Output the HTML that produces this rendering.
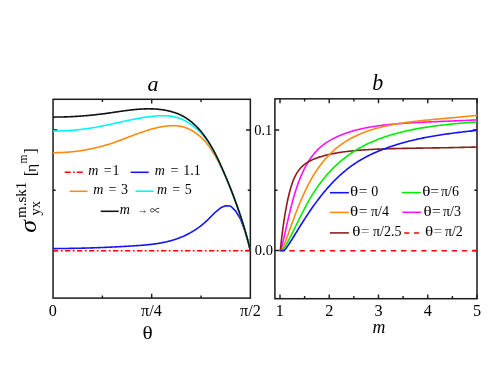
<!DOCTYPE html>
<html><head><meta charset="utf-8"><title>chart</title>
<style>html,body{margin:0;padding:0;background:#fff;}svg{display:block;will-change:transform;}</style>
</head><body>
<svg width="491" height="369" viewBox="0 0 491 369">
<rect width="491" height="369" fill="#fff"/>
<g font-family="'Liberation Serif', serif" fill="#000">
<rect x="53.05" y="99.30" width="197.30" height="198.80" fill="none" stroke="#1a1a1a" stroke-width="1.5"/>
<rect x="274.90" y="98.85" width="202.10" height="199.85" fill="none" stroke="#1a1a1a" stroke-width="1.5"/>
<path d="M151.70 99.30v4.3M151.70 298.10v-4.3M102.38 99.30v2.6M102.38 298.10v-2.6M201.03 99.30v2.6M201.03 298.10v-2.6M53.05 250.50h4.3M250.35 250.50h-4.3M53.05 130.00h4.3M250.35 130.00h-4.3M53.05 190.25h2.6M250.35 190.25h-2.6" fill="none" stroke="#1a1a1a" stroke-width="1.4"/>
<path d="M280.00 98.85v4.3M280.00 298.70v-4.3M329.25 98.85v4.3M329.25 298.70v-4.3M378.50 98.85v4.3M378.50 298.70v-4.3M427.75 98.85v4.3M427.75 298.70v-4.3M477.00 98.85v4.3M477.00 298.70v-4.3M304.62 98.85v2.6M304.62 298.70v-2.6M353.88 98.85v2.6M353.88 298.70v-2.6M403.12 98.85v2.6M403.12 298.70v-2.6M452.38 98.85v2.6M452.38 298.70v-2.6M274.90 250.50h4.3M477.00 250.50h-4.3M274.90 130.00h4.3M477.00 130.00h-4.3M274.90 190.25h2.6M477.00 190.25h-2.6" fill="none" stroke="#1a1a1a" stroke-width="1.4"/>
<g fill="none" stroke-width="1.6" stroke-linejoin="round">
<path d="M53 250.7H250.4" stroke="#ff0000" stroke-width="1.5" stroke-dasharray="5.3 2.5 1.7 2.5"/>
<path d="M53.00 248.55L53.33 248.55L53.90 248.55L54.46 248.55L55.03 248.54L55.60 248.54L56.17 248.54L56.74 248.54L57.31 248.54L57.88 248.53L58.45 248.53L59.01 248.53L59.58 248.52L60.15 248.52L60.72 248.52L61.29 248.51L61.86 248.51L62.43 248.50L63.00 248.50L63.57 248.49L64.13 248.48L64.70 248.48L65.27 248.47L65.84 248.47L66.41 248.46L66.98 248.45L67.55 248.44L68.12 248.44L68.69 248.43L69.26 248.42L69.83 248.41L70.39 248.40L70.96 248.39L71.53 248.38L72.10 248.37L72.67 248.36L73.24 248.35L73.81 248.34L74.38 248.33L74.95 248.32L75.52 248.31L76.09 248.30L76.66 248.29L77.23 248.28L77.80 248.26L78.36 248.25L78.93 248.24L79.50 248.23L80.07 248.21L80.64 248.20L81.21 248.19L81.78 248.17L82.35 248.16L82.92 248.14L83.49 248.13L84.06 248.11L84.63 248.10L85.20 248.08L85.77 248.07L86.34 248.05L86.91 248.03L87.48 248.02L88.05 248.00L88.62 247.98L89.19 247.97L89.76 247.95L90.33 247.93L90.90 247.91L91.47 247.90L92.04 247.88L92.61 247.86L93.18 247.84L93.75 247.82L94.32 247.80L94.89 247.78L95.46 247.76L96.03 247.74L96.60 247.72L97.17 247.70L97.74 247.68L98.31 247.66L98.88 247.63L99.45 247.61L100.02 247.59L100.59 247.57L101.16 247.54L101.73 247.52L102.30 247.50L102.87 247.48L103.44 247.45L104.01 247.43L104.58 247.40L105.15 247.38L105.72 247.36L106.29 247.33L106.87 247.31L107.44 247.28L108.01 247.25L108.58 247.23L109.15 247.20L109.72 247.18L110.29 247.15L110.86 247.12L111.43 247.10L112.00 247.07L112.57 247.04L113.14 247.01L113.71 246.99L114.29 246.96L114.86 246.93L115.43 246.90L116.00 246.87L116.57 246.84L117.14 246.81L117.71 246.78L118.28 246.75L118.85 246.72L119.43 246.69L120.00 246.66L120.57 246.63L121.14 246.60L121.71 246.57L122.28 246.54L122.85 246.51L123.43 246.48L124.00 246.44L124.57 246.41L125.14 246.38L125.71 246.35L126.28 246.31L126.85 246.28L127.43 246.25L128.00 246.21L128.57 246.18L129.14 246.14L129.71 246.11L130.28 246.07L130.86 246.04L131.43 246.00L132.00 245.97L132.57 245.93L133.14 245.90L133.72 245.86L134.29 245.82L134.86 245.79L135.43 245.75L136.00 245.71L136.58 245.67L137.15 245.63L137.72 245.59L138.29 245.55L138.86 245.51L139.43 245.47L140.00 245.43L140.57 245.38L141.15 245.34L141.72 245.29L142.29 245.25L142.86 245.20L143.43 245.15L144.00 245.10L144.57 245.05L145.13 245.00L145.70 244.95L146.27 244.90L146.84 244.84L147.41 244.78L147.98 244.73L148.54 244.67L149.11 244.61L149.68 244.54L150.24 244.48L150.81 244.42L151.37 244.35L151.94 244.28L152.50 244.21L153.07 244.14L153.63 244.07L154.19 243.99L154.76 243.91L155.32 243.84L155.88 243.76L156.44 243.67L157.00 243.59L157.56 243.50L158.12 243.41L158.68 243.32L159.24 243.23L159.79 243.13L160.35 243.04L160.91 242.94L161.46 242.83L162.02 242.73L162.57 242.62L163.13 242.52L163.68 242.40L164.23 242.29L164.78 242.17L165.33 242.05L165.88 241.93L166.43 241.81L166.98 241.68L167.53 241.55L168.07 241.42L168.62 241.28L169.17 241.14L169.71 241.00L170.25 240.86L170.80 240.71L171.34 240.56L171.88 240.41L172.42 240.25L172.96 240.09L173.50 239.93L174.03 239.77L174.57 239.60L175.10 239.42L175.64 239.25L176.17 239.07L176.70 238.89L177.23 238.70L177.76 238.51L178.29 238.32L178.82 238.12L179.35 237.92L179.87 237.72L180.40 237.51L180.92 237.30L181.44 237.08L181.96 236.87L182.48 236.65L183.00 236.42L183.52 236.19L184.04 235.96L184.55 235.72L185.06 235.48L185.57 235.24L186.08 234.99L186.59 234.74L187.10 234.49L187.61 234.23L188.11 233.97L188.61 233.71L189.12 233.44L189.61 233.17L190.11 232.90L190.61 232.62L191.10 232.34L191.60 232.05L192.09 231.77L192.58 231.47L193.06 231.18L193.55 230.88L194.03 230.58L194.52 230.27L195.00 229.97L195.47 229.65L195.95 229.34L196.43 229.02L196.90 228.70L197.37 228.37L197.84 228.05L198.30 227.71L198.77 227.38L199.23 227.04L199.69 226.70L200.15 226.36L200.60 226.01L201.05 225.66L201.51 225.30L201.95 224.94L202.40 224.58L202.84 224.22L203.29 223.85L203.73 223.48L204.16 223.11L204.60 222.73L205.03 222.35L205.46 221.97L205.88 221.58L206.31 221.19L206.73 220.80L207.15 220.40L207.57 220.00L207.98 219.60L208.39 219.20L208.80 218.79L209.21 218.38L209.61 217.96L210.01 217.54L210.41 217.12L210.80 216.70L215.80 211.80L220.70 207.80L225.60 205.70L230.50 206.00L235.50 210.80L240.40 218.80L245.30 232.00L250.40 250.50" stroke="#1414f5"/>
<path d="M53.00 152.69L53.41 152.69L54.21 152.69L55.00 152.68L55.79 152.68L56.58 152.67L57.38 152.65L58.17 152.63L58.96 152.61L59.75 152.59L60.54 152.56L61.34 152.53L62.13 152.49L62.92 152.46L63.71 152.41L64.50 152.37L65.30 152.32L66.09 152.27L66.88 152.21L67.67 152.15L68.46 152.09L69.25 152.02L70.04 151.95L70.83 151.88L71.62 151.80L72.41 151.72L73.20 151.64L73.99 151.55L74.78 151.46L75.57 151.37L76.36 151.27L77.15 151.17L77.93 151.07L78.72 150.96L79.51 150.85L80.30 150.74L81.08 150.62L81.87 150.50L82.65 150.38L83.44 150.25L84.22 150.12L85.01 149.98L85.79 149.85L86.57 149.70L87.35 149.56L88.13 149.41L88.92 149.26L89.70 149.11L90.48 148.95L91.26 148.79L92.03 148.62L92.81 148.45L93.59 148.28L94.37 148.11L95.14 147.93L95.92 147.75L96.69 147.56L97.46 147.38L98.24 147.18L99.01 146.99L99.78 146.79L100.55 146.59L101.32 146.39L102.09 146.18L102.86 145.97L103.62 145.75L104.39 145.53L105.16 145.31L105.92 145.09L106.68 144.86L107.45 144.63L108.21 144.39L108.97 144.16L109.73 143.91L110.49 143.67L111.24 143.42L112.00 143.17L112.75 142.92L113.51 142.66L114.26 142.40L115.02 142.14L115.77 141.87L116.52 141.61L117.27 141.34L118.02 141.06L118.77 140.79L119.52 140.52L120.26 140.24L121.01 139.96L121.76 139.68L122.50 139.40L123.25 139.12L123.99 138.83L124.74 138.55L125.48 138.26L126.23 137.98L126.97 137.69L127.71 137.41L128.46 137.12L129.20 136.84L129.94 136.55L130.69 136.27L131.43 135.99L132.17 135.70L132.92 135.42L133.66 135.14L134.40 134.86L135.15 134.58L135.89 134.30L136.63 134.03L137.38 133.75L138.12 133.48L138.87 133.21L139.61 132.94L140.36 132.68L141.10 132.41L141.85 132.15L142.60 131.90L143.34 131.64L144.09 131.39L144.84 131.14L145.59 130.90L146.34 130.66L147.09 130.42L147.85 130.19L148.60 129.96L149.35 129.73L150.11 129.51L150.86 129.29L151.62 129.08L152.38 128.87L153.14 128.67L153.89 128.48L154.66 128.28L155.42 128.10L156.18 127.91L156.95 127.74L157.71 127.57L158.48 127.40L159.25 127.25L160.02 127.09L160.79 126.95L161.56 126.81L162.34 126.68L163.11 126.55L163.89 126.43L164.67 126.32L165.45 126.22L166.24 126.12L167.02 126.03L167.81 125.95L168.59 125.88L169.38 125.82L170.17 125.76L170.96 125.72L171.75 125.69L172.54 125.67L173.33 125.67L174.12 125.68L174.91 125.70L175.69 125.73L176.48 125.78L177.26 125.85L178.04 125.94L178.82 126.04L179.59 126.15L180.37 126.29L181.14 126.45L181.90 126.62L182.67 126.81L183.42 127.02L184.18 127.25L184.93 127.49L185.68 127.75L186.42 128.03L187.16 128.32L187.89 128.63L188.62 128.95L189.34 129.29L190.05 129.64L190.76 130.01L191.47 130.39L192.17 130.78L192.86 131.19L193.55 131.61L194.23 132.04L194.90 132.48L195.57 132.94L196.23 133.40L196.88 133.88L197.52 134.37L198.16 134.87L198.79 135.37L199.41 135.89L200.02 136.42L200.63 136.95L201.23 137.50L201.81 138.05L202.39 138.61L202.96 139.17L203.52 139.75L204.07 140.33L204.61 140.91L205.15 141.50L205.67 142.10L206.18 142.71L206.68 143.31L207.18 143.93L207.67 144.55L208.15 145.17L208.62 145.80L209.09 146.44L209.54 147.07L210.00 147.72L210.44 148.36L210.88 149.01L211.31 149.67L211.74 150.33L212.16 150.99L212.58 151.65L213.00 152.32L213.40 152.99L213.81 153.66L214.21 154.34L214.61 155.02L215.01 155.70L215.40 156.38L215.79 157.07L216.18 157.75L216.56 158.44L216.94 159.14L217.32 159.83L217.70 160.52L218.07 161.22L218.44 161.92L218.81 162.62L219.17 163.33L219.53 164.03L219.89 164.74L220.25 165.44L220.61 166.15L220.96 166.86L221.31 167.58L221.66 168.29L222.00 169.01L222.35 169.72L222.69 170.44L223.03 171.16L223.37 171.88L223.70 172.60L224.03 173.32L224.36 174.05L224.69 174.77L225.02 175.49L225.34 176.22L225.67 176.95L225.99 177.68L226.31 178.40L226.63 179.13L226.94 179.86L227.26 180.59L227.57 181.32L227.88 182.05L228.19 182.78L228.50 183.52L228.80 184.25L229.11 184.98L229.41 185.72L229.71 186.45L230.01 187.19L230.31 187.92L230.61 188.66L230.90 189.39L231.20 190.13L231.49 190.87L231.78 191.60L232.07 192.34L232.36 193.08L232.64 193.82L232.93 194.56L233.21 195.30L233.49 196.04L233.77 196.78L234.05 197.53L234.33 198.27L234.60 199.01L234.88 199.75L235.15 200.50L235.42 201.24L235.69 201.99L235.96 202.73L236.23 203.48L236.49 204.22L236.76 204.97L237.02 205.72L237.28 206.46L237.54 207.21L237.80 207.96L238.06 208.71L238.31 209.46L238.57 210.21L238.82 210.96L239.08 211.71L239.33 212.46L239.58 213.21L239.82 213.96L240.07 214.71L240.32 215.47L240.56 216.22L240.81 216.97L241.05 217.73L241.29 218.48L241.53 219.24L241.77 219.99L242.00 220.75L242.24 221.50L242.47 222.26L242.71 223.02L242.94 223.77L243.17 224.53L243.40 225.29L243.63 226.05L243.86 226.81L244.09 227.56L244.31 228.32L244.54 229.08L244.76 229.84L244.98 230.60L245.20 231.37L245.42 232.13L245.64 232.89L245.86 233.65L246.08 234.41L246.29 235.18L246.51 235.94L246.72 236.70L246.93 237.47L247.14 238.23L247.36 238.99L247.57 239.76L247.77 240.52L247.98 241.29L248.19 242.06L248.39 242.82L248.60 243.59L248.80 244.35L249.01 245.12L249.21 245.89L249.41 246.66L249.61 247.42L249.81 248.19L250.01 248.96L250.20 249.73L250.40 250.50" stroke="#ff8a10"/>
<path d="M53.00 131.02L53.54 131.02L54.26 131.02L54.97 131.01L55.68 131.01L56.39 131.00L57.11 130.99L57.82 130.98L58.53 130.96L59.25 130.95L59.96 130.93L60.67 130.91L61.38 130.88L62.10 130.86L62.81 130.83L63.52 130.80L64.23 130.77L64.95 130.74L65.66 130.70L66.37 130.67L67.08 130.63L67.79 130.58L68.51 130.54L69.22 130.50L69.93 130.45L70.64 130.40L71.35 130.35L72.06 130.29L72.77 130.24L73.48 130.18L74.19 130.12L74.90 130.05L75.61 129.99L76.32 129.92L77.03 129.85L77.74 129.78L78.44 129.71L79.15 129.64L79.86 129.56L80.57 129.48L81.28 129.40L81.98 129.31L82.69 129.23L83.40 129.14L84.10 129.05L84.81 128.96L85.51 128.86L86.22 128.77L86.93 128.67L87.63 128.57L88.33 128.47L89.04 128.36L89.74 128.26L90.44 128.15L91.15 128.04L91.85 127.92L92.55 127.81L93.25 127.69L93.96 127.57L94.66 127.45L95.36 127.33L96.06 127.20L96.76 127.08L97.46 126.95L98.16 126.82L98.85 126.68L99.55 126.55L100.25 126.42L100.95 126.28L101.65 126.14L102.35 126.00L103.04 125.86L103.74 125.72L104.44 125.58L105.13 125.43L105.83 125.29L106.53 125.14L107.22 124.99L107.92 124.84L108.62 124.69L109.31 124.55L110.01 124.39L110.70 124.24L111.40 124.09L112.09 123.94L112.79 123.79L113.49 123.63L114.18 123.48L114.88 123.33L115.57 123.17L116.27 123.02L116.96 122.86L117.66 122.71L118.36 122.56L119.05 122.40L119.75 122.25L120.44 122.09L121.14 121.94L121.84 121.79L122.53 121.64L123.23 121.48L123.93 121.33L124.62 121.18L125.32 121.03L126.02 120.88L126.72 120.73L127.41 120.58L128.11 120.43L128.81 120.29L129.51 120.14L130.21 120.00L130.91 119.85L131.61 119.71L132.31 119.57L133.01 119.43L133.71 119.29L134.41 119.15L135.11 119.02L135.81 118.88L136.51 118.75L137.21 118.62L137.92 118.49L138.62 118.36L139.32 118.24L140.03 118.11L140.73 117.99L141.44 117.87L142.14 117.75L142.85 117.64L143.56 117.53L144.26 117.41L144.97 117.31L145.68 117.20L146.39 117.09L147.10 116.99L147.81 116.89L148.52 116.80L149.23 116.70L149.94 116.61L150.65 116.52L151.37 116.44L152.08 116.36L152.79 116.28L153.51 116.20L154.22 116.13L154.94 116.06L155.65 116.00L156.37 115.94L157.08 115.89L157.80 115.84L158.51 115.80L159.22 115.76L159.94 115.73L160.65 115.71L161.36 115.69L162.07 115.68L162.78 115.67L163.49 115.68L164.20 115.68L164.91 115.70L165.62 115.73L166.32 115.76L167.03 115.80L167.73 115.85L168.43 115.91L169.13 115.98L169.83 116.05L170.52 116.14L171.22 116.23L171.91 116.34L172.60 116.46L173.29 116.58L173.97 116.72L174.66 116.87L175.34 117.03L176.01 117.20L176.69 117.38L177.36 117.57L178.03 117.78L178.70 118.00L179.37 118.23L180.03 118.47L180.69 118.73L181.34 119.00L182.00 119.28L182.64 119.57L183.29 119.88L183.93 120.19L184.57 120.52L185.20 120.85L185.83 121.20L186.46 121.56L187.08 121.92L187.70 122.30L188.32 122.68L188.93 123.07L189.53 123.47L190.13 123.87L190.73 124.28L191.32 124.70L191.91 125.13L192.49 125.56L193.06 126.00L193.64 126.44L194.20 126.89L194.76 127.34L195.32 127.80L195.87 128.27L196.42 128.74L196.96 129.21L197.49 129.69L198.02 130.18L198.55 130.67L199.06 131.17L199.58 131.67L200.08 132.18L200.58 132.69L201.08 133.21L201.56 133.73L202.05 134.25L202.52 134.78L202.99 135.32L203.46 135.86L203.91 136.40L204.37 136.95L204.81 137.50L205.25 138.06L205.68 138.62L206.10 139.18L206.52 139.75L206.94 140.32L207.35 140.89L207.75 141.47L208.15 142.05L208.54 142.64L208.93 143.23L209.31 143.82L209.69 144.41L210.07 145.01L210.44 145.61L210.80 146.22L211.17 146.82L211.53 147.43L211.88 148.04L212.24 148.66L212.59 149.27L212.93 149.89L213.28 150.51L213.62 151.13L213.95 151.76L214.29 152.39L214.62 153.02L214.95 153.65L215.27 154.28L215.60 154.91L215.92 155.55L216.24 156.19L216.55 156.82L216.87 157.46L217.18 158.11L217.49 158.75L217.80 159.39L218.11 160.04L218.41 160.68L218.72 161.33L219.02 161.98L219.32 162.62L219.62 163.27L219.92 163.92L220.22 164.57L220.52 165.22L220.81 165.87L221.11 166.52L221.40 167.17L221.70 167.82L221.99 168.47L222.28 169.13L222.57 169.78L222.86 170.43L223.15 171.08L223.44 171.74L223.73 172.39L224.01 173.04L224.30 173.70L224.58 174.35L224.87 175.01L225.15 175.66L225.43 176.32L225.71 176.97L226.00 177.63L226.27 178.28L226.55 178.94L226.83 179.60L227.11 180.25L227.38 180.91L227.66 181.57L227.93 182.23L228.20 182.89L228.48 183.54L228.75 184.20L229.02 184.86L229.29 185.52L229.56 186.18L229.82 186.84L230.09 187.50L230.35 188.17L230.62 188.83L230.88 189.49L231.14 190.15L231.41 190.81L231.67 191.48L231.93 192.14L232.19 192.80L232.44 193.47L232.70 194.13L232.96 194.79L233.21 195.46L233.46 196.12L233.72 196.79L233.97 197.46L234.22 198.12L234.47 198.79L234.72 199.46L234.97 200.12L235.21 200.79L235.46 201.46L235.70 202.13L235.95 202.79L236.19 203.46L236.43 204.13L236.67 204.80L236.91 205.47L237.15 206.14L237.39 206.81L237.63 207.48L237.86 208.16L238.10 208.83L238.33 209.50L238.57 210.17L238.80 210.85L239.03 211.52L239.26 212.19L239.49 212.87L239.71 213.54L239.94 214.21L240.17 214.89L240.39 215.56L240.61 216.24L240.84 216.92L241.06 217.59L241.28 218.27L241.50 218.95L241.72 219.62L241.93 220.30L242.15 220.98L242.36 221.66L242.58 222.34L242.79 223.02L243.00 223.70L243.21 224.38L243.42 225.06L243.63 225.74L243.84 226.42L244.05 227.10L244.25 227.78L244.46 228.47L244.66 229.15L244.86 229.83L245.06 230.51L245.26 231.20L245.46 231.88L245.66 232.57L245.85 233.25L246.05 233.94L246.24 234.62L246.44 235.31L246.63 236.00L246.82 236.68L247.01 237.37L247.20 238.06L247.39 238.75L247.57 239.43L247.76 240.12L247.94 240.81L248.12 241.50L248.31 242.19L248.49 242.88L248.67 243.57L248.85 244.26L249.02 244.95L249.20 245.65L249.37 246.34L249.55 247.03L249.72 247.72L249.89 248.42L250.06 249.11L250.23 249.81L250.40 250.50" stroke="#00f6fa"/>
<path d="M53.00 117.08L53.44 117.08L54.16 117.08L54.87 117.07L55.59 117.07L56.30 117.06L57.01 117.06L57.73 117.05L58.44 117.04L59.16 117.03L59.87 117.02L60.59 117.00L61.30 116.99L62.01 116.97L62.73 116.96L63.44 116.94L64.16 116.92L64.87 116.90L65.58 116.87L66.30 116.85L67.01 116.83L67.73 116.80L68.44 116.77L69.16 116.74L69.87 116.71L70.58 116.68L71.30 116.65L72.01 116.61L72.73 116.58L73.44 116.54L74.15 116.50L74.87 116.46L75.58 116.42L76.30 116.38L77.01 116.33L77.73 116.29L78.44 116.24L79.15 116.19L79.87 116.14L80.58 116.09L81.30 116.04L82.01 115.99L82.73 115.93L83.44 115.88L84.16 115.82L84.87 115.76L85.58 115.70L86.30 115.64L87.01 115.58L87.73 115.51L88.44 115.45L89.16 115.38L89.87 115.31L90.59 115.24L91.30 115.17L92.01 115.10L92.73 115.03L93.44 114.96L94.16 114.88L94.87 114.80L95.59 114.72L96.30 114.64L97.02 114.56L97.73 114.48L98.45 114.40L99.16 114.31L99.88 114.23L100.59 114.14L101.31 114.05L102.02 113.96L102.74 113.87L103.45 113.78L104.17 113.68L104.88 113.59L105.60 113.49L106.31 113.39L107.03 113.29L107.74 113.19L108.46 113.09L109.17 112.99L109.89 112.89L110.60 112.78L111.32 112.68L112.03 112.57L112.75 112.47L113.46 112.36L114.18 112.26L114.89 112.15L115.61 112.05L116.32 111.94L117.04 111.84L117.75 111.73L118.47 111.63L119.18 111.52L119.90 111.42L120.61 111.32L121.33 111.22L122.04 111.11L122.76 111.01L123.47 110.92L124.19 110.82L124.90 110.72L125.62 110.62L126.33 110.53L127.05 110.44L127.76 110.35L128.48 110.26L129.19 110.17L129.91 110.08L130.62 110.00L131.34 109.92L132.05 109.84L132.77 109.76L133.48 109.69L134.20 109.61L134.91 109.54L135.63 109.48L136.34 109.41L137.05 109.35L137.77 109.29L138.48 109.23L139.20 109.18L139.91 109.13L140.63 109.09L141.34 109.04L142.06 109.00L142.77 108.97L143.48 108.94L144.20 108.91L144.91 108.88L145.63 108.86L146.34 108.85L147.05 108.83L147.77 108.82L148.48 108.82L149.19 108.82L149.91 108.83L150.62 108.84L151.34 108.85L152.05 108.87L152.76 108.89L153.48 108.92L154.19 108.96L154.90 109.00L155.61 109.04L156.33 109.09L157.04 109.15L157.75 109.21L158.47 109.27L159.18 109.35L159.89 109.42L160.60 109.51L161.31 109.60L162.02 109.69L162.73 109.80L163.44 109.91L164.15 110.02L164.86 110.14L165.56 110.27L166.27 110.41L166.97 110.55L167.67 110.70L168.37 110.85L169.06 111.01L169.76 111.18L170.45 111.36L171.14 111.54L171.83 111.73L172.51 111.93L173.19 112.14L173.87 112.35L174.55 112.58L175.22 112.81L175.89 113.04L176.55 113.29L177.22 113.54L177.87 113.80L178.53 114.08L179.18 114.35L179.82 114.64L180.47 114.94L181.10 115.24L181.74 115.55L182.36 115.88L182.99 116.21L183.61 116.55L184.22 116.90L184.83 117.25L185.43 117.62L186.03 118.00L186.62 118.38L187.21 118.77L187.80 119.17L188.37 119.58L188.95 119.99L189.52 120.41L190.08 120.85L190.64 121.28L191.20 121.73L191.75 122.18L192.29 122.64L192.83 123.10L193.37 123.57L193.90 124.05L194.43 124.54L194.95 125.03L195.47 125.52L195.98 126.03L196.49 126.53L196.99 127.05L197.49 127.57L197.99 128.09L198.48 128.62L198.96 129.15L199.45 129.69L199.92 130.24L200.40 130.79L200.86 131.34L201.33 131.89L201.79 132.46L202.24 133.02L202.69 133.59L203.14 134.16L203.58 134.74L204.02 135.32L204.45 135.90L204.88 136.49L205.30 137.07L205.72 137.67L206.14 138.26L206.55 138.86L206.96 139.45L207.36 140.05L207.76 140.66L208.15 141.26L208.55 141.87L208.93 142.48L209.32 143.09L209.69 143.70L210.07 144.32L210.44 144.93L210.81 145.55L211.18 146.17L211.54 146.79L211.89 147.41L212.25 148.04L212.60 148.66L212.95 149.29L213.29 149.92L213.64 150.55L213.97 151.18L214.31 151.81L214.64 152.45L214.98 153.08L215.30 153.72L215.63 154.36L215.95 155.00L216.27 155.64L216.59 156.28L216.91 156.92L217.22 157.57L217.53 158.21L217.84 158.86L218.15 159.50L218.45 160.15L218.76 160.80L219.06 161.45L219.36 162.10L219.66 162.75L219.95 163.40L220.25 164.05L220.54 164.71L220.84 165.36L221.13 166.01L221.42 166.67L221.71 167.32L222.00 167.98L222.28 168.64L222.57 169.29L222.85 169.95L223.14 170.61L223.42 171.26L223.71 171.92L223.99 172.58L224.27 173.24L224.55 173.89L224.83 174.55L225.11 175.21L225.39 175.87L225.67 176.53L225.94 177.19L226.22 177.85L226.49 178.51L226.77 179.17L227.04 179.84L227.32 180.50L227.59 181.16L227.86 181.82L228.13 182.48L228.40 183.15L228.67 183.81L228.94 184.48L229.20 185.14L229.47 185.80L229.74 186.47L230.00 187.13L230.26 187.80L230.53 188.46L230.79 189.13L231.05 189.80L231.31 190.46L231.57 191.13L231.83 191.80L232.09 192.47L232.34 193.13L232.60 193.80L232.85 194.47L233.11 195.14L233.36 195.81L233.62 196.48L233.87 197.15L234.12 197.82L234.37 198.49L234.62 199.16L234.86 199.83L235.11 200.50L235.36 201.18L235.60 201.85L235.85 202.52L236.09 203.19L236.33 203.87L236.57 204.54L236.81 205.21L237.05 205.89L237.29 206.56L237.53 207.24L237.77 207.91L238.00 208.59L238.24 209.27L238.47 209.94L238.70 210.62L238.94 211.30L239.17 211.98L239.40 212.65L239.62 213.33L239.85 214.01L240.08 214.69L240.31 215.37L240.53 216.05L240.75 216.73L240.98 217.41L241.20 218.09L241.42 218.77L241.64 219.45L241.86 220.13L242.07 220.82L242.29 221.50L242.51 222.18L242.72 222.86L242.94 223.55L243.15 224.23L243.36 224.92L243.57 225.60L243.78 226.29L243.99 226.97L244.19 227.66L244.40 228.34L244.60 229.03L244.81 229.72L245.01 230.41L245.21 231.09L245.41 231.78L245.61 232.47L245.81 233.16L246.01 233.85L246.20 234.54L246.40 235.23L246.59 235.92L246.79 236.61L246.98 237.30L247.17 237.99L247.36 238.68L247.55 239.37L247.73 240.07L247.92 240.76L248.10 241.45L248.29 242.15L248.47 242.84L248.65 243.53L248.83 244.23L249.01 244.92L249.19 245.62L249.37 246.32L249.54 247.01L249.71 247.71L249.89 248.41L250.06 249.10L250.23 249.80L250.40 250.50" stroke="#111"/>
</g>
<g fill="none" stroke-width="1.6" stroke-linejoin="round">
<path d="M279.2 250.7H477" stroke="#ff0000" stroke-width="1.5" stroke-dasharray="5.3 4.85"/>
<path d="M280.30 250.50L280.41 250.46L280.53 250.34L280.65 250.16L280.79 249.91L280.93 249.60L281.07 249.22L281.23 248.78L281.39 248.27L281.56 247.71L281.74 247.09L281.92 246.41L282.11 245.68L282.31 244.89L282.51 244.06L282.72 243.17L282.94 242.24L283.17 241.25L283.40 240.23L283.65 239.16L283.89 238.05L284.15 236.90L284.41 235.71L284.68 234.49L284.96 233.23L285.24 231.93L285.54 230.61L285.83 229.25L286.14 227.87L286.45 226.46L286.77 225.02L287.10 223.56L287.44 222.08L287.78 220.58L288.13 219.06L288.48 217.52L288.85 215.97L289.22 214.41L289.60 212.83L289.98 211.25L290.38 209.66L290.78 208.06L291.18 206.46L291.60 204.85L292.02 203.25L292.45 201.65L292.88 200.05L293.33 198.46L293.78 196.88L294.24 195.31L294.70 193.74L295.17 192.19L295.65 190.66L296.14 189.14L296.63 187.64L297.13 186.16L297.64 184.71L298.16 183.27L298.68 181.86L299.21 180.47L299.75 179.11L300.29 177.76L300.84 176.44L301.40 175.14L301.97 173.86L302.54 172.61L303.12 171.37L303.71 170.16L304.30 168.97L304.91 167.80L305.52 166.66L306.13 165.53L306.76 164.43L307.39 163.35L308.02 162.29L308.67 161.25L309.32 160.23L309.98 159.23L310.65 158.26L311.32 157.30L312.01 156.37L312.69 155.46L313.39 154.57L314.09 153.70L314.80 152.85L315.52 152.03L316.25 151.22L316.98 150.44L317.72 149.68L318.46 148.94L319.22 148.22L319.98 147.52L320.75 146.84L321.52 146.19L322.31 145.56L323.10 144.94L323.89 144.34L324.70 143.77L325.51 143.20L326.33 142.66L327.15 142.12L327.99 141.60L328.83 141.09L329.67 140.59L330.53 140.10L331.39 139.62L332.26 139.15L333.14 138.69L334.02 138.23L334.91 137.79L335.81 137.35L336.72 136.93L337.63 136.51L338.55 136.10L339.47 135.69L340.41 135.30L341.35 134.91L342.30 134.54L343.26 134.17L344.22 133.80L345.19 133.45L346.17 133.10L347.15 132.76L348.14 132.43L349.14 132.11L350.15 131.79L351.16 131.48L352.18 131.18L353.21 130.88L354.25 130.59L355.29 130.31L356.34 130.03L357.40 129.76L358.46 129.50L359.53 129.24L360.61 128.99L361.70 128.75L362.79 128.51L363.89 128.28L365.00 128.05L366.11 127.83L367.23 127.61L368.36 127.40L369.50 127.20L370.64 127.00L371.80 126.81L372.95 126.62L374.12 126.43L375.29 126.25L376.47 126.08L377.66 125.91L378.85 125.75L380.05 125.59L381.26 125.43L382.48 125.28L383.70 125.13L384.93 124.99L386.17 124.85L387.41 124.71L388.67 124.58L389.93 124.45L391.19 124.33L392.47 124.21L393.75 124.09L395.03 123.98L396.33 123.87L397.63 123.76L398.94 123.66L400.26 123.55L401.58 123.46L402.91 123.36L404.25 123.27L405.60 123.18L406.95 123.09L408.31 123.00L409.68 122.92L411.05 122.83L412.44 122.75L413.83 122.68L415.22 122.60L416.63 122.53L418.04 122.45L419.45 122.38L420.88 122.31L422.31 122.24L423.75 122.17L425.20 122.11L426.65 122.04L428.11 121.98L429.58 121.91L431.06 121.85L432.54 121.79L434.03 121.73L435.53 121.67L437.04 121.60L438.55 121.54L440.07 121.48L441.59 121.42L443.13 121.36L444.67 121.30L446.22 121.24L447.77 121.18L449.33 121.11L450.90 121.05L452.48 120.99L454.06 120.92L455.65 120.86L457.25 120.79L458.86 120.72L460.47 120.65L462.09 120.58L463.72 120.51L465.35 120.44L467.00 120.36L468.65 120.29L470.30 120.21L471.97 120.13L473.64 120.05L475.31 119.96L477.00 119.88" stroke="#ff10ff"/>
<path d="M280.30 250.50L280.41 249.46L280.53 248.37L280.65 247.21L280.79 245.99L280.93 244.73L281.07 243.41L281.23 242.05L281.39 240.64L281.56 239.19L281.74 237.70L281.92 236.18L282.11 234.63L282.31 233.05L282.51 231.44L282.72 229.81L282.94 228.16L283.17 226.49L283.40 224.81L283.65 223.12L283.89 221.42L284.15 219.72L284.41 218.02L284.68 216.31L284.96 214.61L285.24 212.91L285.54 211.21L285.83 209.53L286.14 207.85L286.45 206.18L286.77 204.52L287.10 202.89L287.44 201.26L287.78 199.66L288.13 198.07L288.48 196.51L288.85 194.98L289.22 193.46L289.60 191.98L289.98 190.53L290.38 189.11L290.78 187.72L291.18 186.37L291.60 185.06L292.02 183.79L292.45 182.56L292.88 181.37L293.33 180.23L293.78 179.13L294.24 178.08L294.70 177.07L295.17 176.10L295.65 175.18L296.14 174.29L296.63 173.43L297.13 172.62L297.64 171.84L298.16 171.09L298.68 170.37L299.21 169.68L299.75 169.03L300.29 168.40L300.84 167.79L301.40 167.21L301.97 166.66L302.54 166.12L303.12 165.61L303.71 165.11L304.30 164.63L304.91 164.17L305.52 163.72L306.13 163.29L306.76 162.87L307.39 162.46L308.02 162.06L308.67 161.68L309.32 161.31L309.98 160.95L310.65 160.60L311.32 160.26L312.01 159.94L312.69 159.62L313.39 159.31L314.09 159.01L314.80 158.72L315.52 158.44L316.25 158.16L316.98 157.89L317.72 157.63L318.46 157.38L319.22 157.13L319.98 156.88L320.75 156.65L321.52 156.41L322.31 156.18L323.10 155.96L323.89 155.74L324.70 155.53L325.51 155.32L326.33 155.11L327.15 154.91L327.99 154.71L328.83 154.52L329.67 154.33L330.53 154.14L331.39 153.96L332.26 153.78L333.14 153.61L334.02 153.44L334.91 153.27L335.81 153.11L336.72 152.95L337.63 152.80L338.55 152.65L339.47 152.50L340.41 152.36L341.35 152.22L342.30 152.08L343.26 151.95L344.22 151.82L345.19 151.69L346.17 151.57L347.15 151.44L348.14 151.33L349.14 151.21L350.15 151.10L351.16 150.99L352.18 150.89L353.21 150.78L354.25 150.68L355.29 150.59L356.34 150.49L357.40 150.40L358.46 150.31L359.53 150.23L360.61 150.14L361.70 150.06L362.79 149.98L363.89 149.90L365.00 149.83L366.11 149.76L367.23 149.69L368.36 149.62L369.50 149.55L370.64 149.49L371.80 149.43L372.95 149.37L374.12 149.31L375.29 149.26L376.47 149.20L377.66 149.15L378.85 149.10L380.05 149.05L381.26 149.00L382.48 148.96L383.70 148.91L384.93 148.87L386.17 148.83L387.41 148.79L388.67 148.75L389.93 148.72L391.19 148.68L392.47 148.65L393.75 148.61L395.03 148.58L396.33 148.55L397.63 148.52L398.94 148.49L400.26 148.46L401.58 148.43L402.91 148.40L404.25 148.38L405.60 148.35L406.95 148.33L408.31 148.30L409.68 148.28L411.05 148.25L412.44 148.23L413.83 148.21L415.22 148.19L416.63 148.16L418.04 148.14L419.45 148.12L420.88 148.10L422.31 148.08L423.75 148.06L425.20 148.03L426.65 148.01L428.11 147.99L429.58 147.97L431.06 147.95L432.54 147.92L434.03 147.90L435.53 147.88L437.04 147.86L438.55 147.83L440.07 147.81L441.59 147.78L443.13 147.76L444.67 147.73L446.22 147.70L447.77 147.68L449.33 147.65L450.90 147.62L452.48 147.59L454.06 147.56L455.65 147.52L457.25 147.49L458.86 147.45L460.47 147.42L462.09 147.38L463.72 147.34L465.35 147.30L467.00 147.26L468.65 147.22L470.30 147.18L471.97 147.13L473.64 147.08L475.31 147.04L477.00 146.99" stroke="#8a1c1c"/>
<path d="M280.30 250.50L280.41 250.50L280.53 250.50L280.65 250.50L280.79 250.50L280.93 250.50L281.07 250.50L281.23 250.50L281.39 250.50L281.56 250.32L281.74 250.08L281.92 249.81L282.11 249.49L282.31 249.14L282.51 248.75L282.72 248.32L282.94 247.86L283.17 247.36L283.40 246.83L283.65 246.26L283.89 245.66L284.15 245.03L284.41 244.37L284.68 243.67L284.96 242.95L285.24 242.19L285.54 241.41L285.83 240.60L286.14 239.76L286.45 238.90L286.77 238.01L287.10 237.10L287.44 236.16L287.78 235.20L288.13 234.21L288.48 233.21L288.85 232.18L289.22 231.13L289.60 230.07L289.98 228.98L290.38 227.88L290.78 226.76L291.18 225.63L291.60 224.47L292.02 223.31L292.45 222.13L292.88 220.93L293.33 219.73L293.78 218.51L294.24 217.28L294.70 216.04L295.17 214.79L295.65 213.53L296.14 212.27L296.63 210.99L297.13 209.72L297.64 208.43L298.16 207.14L298.68 205.85L299.21 204.55L299.75 203.25L300.29 201.95L300.84 200.64L301.40 199.34L301.97 198.04L302.54 196.73L303.12 195.43L303.71 194.14L304.30 192.84L304.91 191.55L305.52 190.27L306.13 188.99L306.76 187.72L307.39 186.45L308.02 185.19L308.67 183.94L309.32 182.71L309.98 181.48L310.65 180.26L311.32 179.05L312.01 177.86L312.69 176.68L313.39 175.51L314.09 174.36L314.80 173.23L315.52 172.10L316.25 171.00L316.98 169.90L317.72 168.82L318.46 167.76L319.22 166.71L319.98 165.67L320.75 164.65L321.52 163.65L322.31 162.65L323.10 161.68L323.89 160.71L324.70 159.76L325.51 158.83L326.33 157.91L327.15 157.00L327.99 156.11L328.83 155.23L329.67 154.36L330.53 153.51L331.39 152.68L332.26 151.85L333.14 151.05L334.02 150.25L334.91 149.47L335.81 148.71L336.72 147.96L337.63 147.22L338.55 146.49L339.47 145.78L340.41 145.09L341.35 144.41L342.30 143.74L343.26 143.08L344.22 142.44L345.19 141.81L346.17 141.19L347.15 140.58L348.14 139.99L349.14 139.41L350.15 138.84L351.16 138.28L352.18 137.74L353.21 137.20L354.25 136.68L355.29 136.17L356.34 135.67L357.40 135.18L358.46 134.70L359.53 134.23L360.61 133.77L361.70 133.32L362.79 132.89L363.89 132.46L365.00 132.04L366.11 131.63L367.23 131.23L368.36 130.84L369.50 130.46L370.64 130.09L371.80 129.72L372.95 129.37L374.12 129.02L375.29 128.68L376.47 128.35L377.66 128.03L378.85 127.71L380.05 127.41L381.26 127.11L382.48 126.81L383.70 126.53L384.93 126.25L386.17 125.98L387.41 125.71L388.67 125.45L389.93 125.20L391.19 124.95L392.47 124.71L393.75 124.48L395.03 124.25L396.33 124.02L397.63 123.80L398.94 123.59L400.26 123.38L401.58 123.17L402.91 122.97L404.25 122.78L405.60 122.59L406.95 122.40L408.31 122.22L409.68 122.04L411.05 121.86L412.44 121.69L413.83 121.52L415.22 121.35L416.63 121.19L418.04 121.03L419.45 120.87L420.88 120.72L422.31 120.56L423.75 120.41L425.20 120.26L426.65 120.12L428.11 119.97L429.58 119.83L431.06 119.68L432.54 119.54L434.03 119.40L435.53 119.26L437.04 119.12L438.55 118.98L440.07 118.84L441.59 118.71L443.13 118.57L444.67 118.43L446.22 118.29L447.77 118.15L449.33 118.01L450.90 117.87L452.48 117.73L454.06 117.58L455.65 117.44L457.25 117.29L458.86 117.14L460.47 116.99L462.09 116.84L463.72 116.69L465.35 116.53L467.00 116.37L468.65 116.21L470.30 116.05L471.97 115.88L473.64 115.71L475.31 115.53L477.00 115.36" stroke="#ff8a10"/>
<path d="M280.30 250.50L280.41 250.50L280.53 250.50L280.65 250.50L280.79 250.50L280.93 250.50L281.07 250.50L281.23 250.50L281.39 250.50L281.56 250.50L281.74 250.50L281.92 250.50L282.11 250.50L282.31 250.37L282.51 250.17L282.72 249.94L282.94 249.70L283.17 249.42L283.40 249.12L283.65 248.80L283.89 248.45L284.15 248.08L284.41 247.68L284.68 247.27L284.96 246.82L285.24 246.36L285.54 245.87L285.83 245.37L286.14 244.83L286.45 244.28L286.77 243.71L287.10 243.11L287.44 242.50L287.78 241.86L288.13 241.21L288.48 240.53L288.85 239.83L289.22 239.12L289.60 238.38L289.98 237.63L290.38 236.86L290.78 236.07L291.18 235.26L291.60 234.43L292.02 233.59L292.45 232.73L292.88 231.85L293.33 230.96L293.78 230.05L294.24 229.12L294.70 228.18L295.17 227.22L295.65 226.25L296.14 225.26L296.63 224.26L297.13 223.24L297.64 222.21L298.16 221.17L298.68 220.11L299.21 219.04L299.75 217.96L300.29 216.86L300.84 215.76L301.40 214.65L301.97 213.53L302.54 212.41L303.12 211.28L303.71 210.14L304.30 209.00L304.91 207.85L305.52 206.71L306.13 205.56L306.76 204.41L307.39 203.26L308.02 202.11L308.67 200.97L309.32 199.82L309.98 198.68L310.65 197.55L311.32 196.42L312.01 195.29L312.69 194.18L313.39 193.07L314.09 191.97L314.80 190.88L315.52 189.79L316.25 188.72L316.98 187.65L317.72 186.59L318.46 185.54L319.22 184.50L319.98 183.46L320.75 182.44L321.52 181.42L322.31 180.42L323.10 179.42L323.89 178.43L324.70 177.45L325.51 176.48L326.33 175.52L327.15 174.56L327.99 173.62L328.83 172.69L329.67 171.76L330.53 170.85L331.39 169.94L332.26 169.04L333.14 168.16L334.02 167.28L334.91 166.41L335.81 165.55L336.72 164.71L337.63 163.87L338.55 163.04L339.47 162.22L340.41 161.42L341.35 160.62L342.30 159.83L343.26 159.05L344.22 158.29L345.19 157.53L346.17 156.79L347.15 156.05L348.14 155.33L349.14 154.61L350.15 153.91L351.16 153.22L352.18 152.53L353.21 151.86L354.25 151.20L355.29 150.55L356.34 149.91L357.40 149.28L358.46 148.65L359.53 148.04L360.61 147.44L361.70 146.85L362.79 146.26L363.89 145.69L365.00 145.12L366.11 144.57L367.23 144.02L368.36 143.48L369.50 142.96L370.64 142.44L371.80 141.92L372.95 141.42L374.12 140.93L375.29 140.44L376.47 139.97L377.66 139.50L378.85 139.04L380.05 138.58L381.26 138.14L382.48 137.70L383.70 137.27L384.93 136.85L386.17 136.44L387.41 136.03L388.67 135.64L389.93 135.25L391.19 134.86L392.47 134.49L393.75 134.12L395.03 133.75L396.33 133.40L397.63 133.05L398.94 132.71L400.26 132.37L401.58 132.04L402.91 131.72L404.25 131.41L405.60 131.10L406.95 130.79L408.31 130.50L409.68 130.20L411.05 129.92L412.44 129.64L413.83 129.36L415.22 129.10L416.63 128.83L418.04 128.58L419.45 128.32L420.88 128.08L422.31 127.84L423.75 127.60L425.20 127.37L426.65 127.14L428.11 126.92L429.58 126.70L431.06 126.49L432.54 126.28L434.03 126.08L435.53 125.88L437.04 125.68L438.55 125.49L440.07 125.31L441.59 125.12L443.13 124.94L444.67 124.77L446.22 124.60L447.77 124.43L449.33 124.27L450.90 124.11L452.48 123.95L454.06 123.79L455.65 123.64L457.25 123.49L458.86 123.35L460.47 123.21L462.09 123.07L463.72 122.93L465.35 122.80L467.00 122.67L468.65 122.54L470.30 122.41L471.97 122.28L473.64 122.16L475.31 122.04L477.00 121.92" stroke="#00ee00"/>
<path d="M280.30 250.50L280.41 250.50L280.53 250.50L280.65 250.50L280.79 250.50L280.93 250.50L281.07 250.50L281.23 250.50L281.39 250.50L281.56 250.50L281.74 250.50L281.92 250.50L282.11 250.50L282.31 250.50L282.51 250.50L282.72 250.50L282.94 250.50L283.17 250.50L283.40 250.50L283.65 250.50L283.89 250.50L284.15 250.49L284.41 250.22L284.68 249.93L284.96 249.61L285.24 249.28L285.54 248.92L285.83 248.54L286.14 248.15L286.45 247.73L286.77 247.29L287.10 246.83L287.44 246.36L287.78 245.86L288.13 245.35L288.48 244.82L288.85 244.27L289.22 243.71L289.60 243.13L289.98 242.53L290.38 241.91L290.78 241.28L291.18 240.64L291.60 239.98L292.02 239.30L292.45 238.61L292.88 237.91L293.33 237.19L293.78 236.46L294.24 235.71L294.70 234.96L295.17 234.19L295.65 233.41L296.14 232.61L296.63 231.81L297.13 230.99L297.64 230.17L298.16 229.33L298.68 228.48L299.21 227.63L299.75 226.76L300.29 225.89L300.84 225.00L301.40 224.11L301.97 223.22L302.54 222.31L303.12 221.39L303.71 220.47L304.30 219.55L304.91 218.61L305.52 217.67L306.13 216.73L306.76 215.78L307.39 214.83L308.02 213.87L308.67 212.90L309.32 211.94L309.98 210.97L310.65 209.99L311.32 209.02L312.01 208.04L312.69 207.06L313.39 206.08L314.09 205.09L314.80 204.11L315.52 203.12L316.25 202.14L316.98 201.15L317.72 200.17L318.46 199.18L319.22 198.20L319.98 197.21L320.75 196.23L321.52 195.26L322.31 194.28L323.10 193.31L323.89 192.34L324.70 191.37L325.51 190.41L326.33 189.45L327.15 188.49L327.99 187.54L328.83 186.60L329.67 185.66L330.53 184.73L331.39 183.80L332.26 182.88L333.14 181.97L334.02 181.06L334.91 180.16L335.81 179.27L336.72 178.38L337.63 177.50L338.55 176.64L339.47 175.77L340.41 174.92L341.35 174.08L342.30 173.24L343.26 172.42L344.22 171.60L345.19 170.80L346.17 170.00L347.15 169.22L348.14 168.44L349.14 167.68L350.15 166.92L351.16 166.18L352.18 165.45L353.21 164.72L354.25 164.01L355.29 163.31L356.34 162.62L357.40 161.94L358.46 161.27L359.53 160.61L360.61 159.96L361.70 159.32L362.79 158.70L363.89 158.08L365.00 157.48L366.11 156.89L367.23 156.30L368.36 155.73L369.50 155.17L370.64 154.62L371.80 154.08L372.95 153.54L374.12 153.02L375.29 152.50L376.47 151.99L377.66 151.49L378.85 151.00L380.05 150.51L381.26 150.04L382.48 149.56L383.70 149.10L384.93 148.64L386.17 148.18L387.41 147.73L388.67 147.29L389.93 146.85L391.19 146.42L392.47 145.99L393.75 145.57L395.03 145.15L396.33 144.74L397.63 144.34L398.94 143.94L400.26 143.55L401.58 143.17L402.91 142.79L404.25 142.42L405.60 142.06L406.95 141.70L408.31 141.34L409.68 141.00L411.05 140.66L412.44 140.32L413.83 140.00L415.22 139.67L416.63 139.36L418.04 139.05L419.45 138.74L420.88 138.44L422.31 138.14L423.75 137.86L425.20 137.57L426.65 137.29L428.11 137.02L429.58 136.75L431.06 136.48L432.54 136.22L434.03 135.96L435.53 135.71L437.04 135.47L438.55 135.22L440.07 134.98L441.59 134.75L443.13 134.52L444.67 134.29L446.22 134.07L447.77 133.85L449.33 133.63L450.90 133.42L452.48 133.21L454.06 133.00L455.65 132.80L457.25 132.60L458.86 132.40L460.47 132.21L462.09 132.02L463.72 131.83L465.35 131.64L467.00 131.46L468.65 131.28L470.30 131.10L471.97 130.92L473.64 130.75L475.31 130.57L477.00 130.40" stroke="#1010ff"/>
</g>
<text x="152.90" y="91.30" font-size="22" text-anchor="middle" font-style="italic" >a</text>
<text transform="translate(377.70 89.80) scale(0.93 1)" font-size="23.6" font-style="italic" text-anchor="middle">b</text>
<text x="52.80" y="315.80" font-size="16.2" text-anchor="middle"  >0</text>
<text x="151.50" y="315.80" font-size="16.2" text-anchor="middle"  >π/4</text>
<text x="250.50" y="315.80" font-size="16.2" text-anchor="middle"  >π/2</text>
<text transform="translate(147.7 339.2) scale(1.2 1)" font-size="17.8" text-anchor="middle">θ</text>
<text x="279.70" y="315.80" font-size="16.2" text-anchor="middle"  >1</text>
<text x="329.25" y="315.80" font-size="16.2" text-anchor="middle"  >2</text>
<text x="378.50" y="315.80" font-size="16.2" text-anchor="middle"  >3</text>
<text x="427.75" y="315.80" font-size="16.2" text-anchor="middle"  >4</text>
<text x="477.00" y="315.80" font-size="16.2" text-anchor="middle"  >5</text>
<text x="379.00" y="332.80" font-size="17.8" text-anchor="middle" font-style="italic" >m</text>
<text x="263.30" y="135.30" font-size="14.5" text-anchor="middle"  >0.1</text>
<text x="263.90" y="254.70" font-size="14.5" text-anchor="middle"  >0.0</text>
<path d="M64.70 172.30H82.80" stroke="#ff0000" stroke-width="1.55" fill="none" stroke-dasharray="6 2.4 1.6 2.1"/>
<path d="M130.70 172.30H148.70" stroke="#1414f5" stroke-width="1.55" fill="none" />
<path d="M69.70 191.30H87.50" stroke="#ff8a10" stroke-width="1.55" fill="none" />
<path d="M135.60 191.20H153.60" stroke="#00f6fa" stroke-width="1.55" fill="none" />
<path d="M100.70 211.30H118.70" stroke="#111" stroke-width="1.55" fill="none" />
<text x="88.30" y="174.70" font-size="14" text-anchor="start" font-style="italic" >m</text>
<text x="103.80" y="174.70" font-size="14" text-anchor="start"  >=</text>
<text x="112.40" y="174.70" font-size="14" text-anchor="start"  >1</text>
<text x="154.70" y="174.70" font-size="14" text-anchor="start" font-style="italic" >m</text>
<text x="170.40" y="174.70" font-size="14" text-anchor="start"  >=</text>
<text x="183.30" y="174.70" font-size="14" text-anchor="start"  >1.1</text>
<text x="93.30" y="193.90" font-size="14" text-anchor="start" font-style="italic" >m</text>
<text x="108.60" y="193.90" font-size="14" text-anchor="start"  >=</text>
<text x="121.00" y="193.90" font-size="14" text-anchor="start"  >3</text>
<text x="157.00" y="193.70" font-size="14" text-anchor="start" font-style="italic" >m</text>
<text x="172.30" y="193.70" font-size="14" text-anchor="start"  >=</text>
<text x="184.80" y="193.70" font-size="14" text-anchor="start"  >5</text>
<text x="119.80" y="213.70" font-size="14" text-anchor="start" font-style="italic" >m</text>
<path d="M139.5 211.6H145.4M143.6 210.2L145.6 211.6L143.6 213" fill="none" stroke="#666" stroke-width="0.75"/>
<path d="M159.2 208.4C157.5 208 156 209.1 154.9 210.2C153.8 211.4 152.7 212.2 151.6 212C150.5 211.7 150.2 210.8 150.5 209.9C150.9 209 151.9 208.4 152.9 208.7C153.9 209 154.4 209.6 154.9 210.2C156 211.4 157.4 212.5 159.2 212.1" fill="none" stroke="#222" stroke-width="0.9"/>
<path d="M329.90 192.70H348.90" stroke="#1010ff" stroke-width="1.55" fill="none" />
<path d="M401.80 192.60H420.80" stroke="#00ee00" stroke-width="1.55" fill="none" />
<path d="M329.90 212.40H348.90" stroke="#ff8a10" stroke-width="1.55" fill="none" />
<path d="M402.30 212.30H421.30" stroke="#ff10ff" stroke-width="1.55" fill="none" />
<path d="M329.90 232.90H348.90" stroke="#8a1c1c" stroke-width="1.55" fill="none" />
<path d="M404.20 232.90H419.60" stroke="#ff0000" stroke-width="1.55" fill="none" stroke-dasharray="5.2 4.6"/>
<text transform="translate(350.00 195.60) scale(1.22 1)" font-size="14">θ</text>
<text transform="translate(358.80 195.60) scale(1.1 1)" font-size="14" >=</text>
<text x="371.20" y="195.60" font-size="14" text-anchor="start"  >0</text>
<text transform="translate(422.30 195.60) scale(1.22 1)" font-size="14">θ</text>
<text transform="translate(430.20 195.60) scale(1.1 1)" font-size="14" >=</text>
<text x="441.00" y="195.60" font-size="14" text-anchor="start"  >π/6</text>
<text transform="translate(350.00 215.70) scale(1.22 1)" font-size="14">θ</text>
<text transform="translate(358.80 215.70) scale(1.1 1)" font-size="14" >=</text>
<text x="371.00" y="215.70" font-size="14" text-anchor="start"  >π/4</text>
<text transform="translate(423.40 215.70) scale(1.22 1)" font-size="14">θ</text>
<text transform="translate(432.00 215.70) scale(1.1 1)" font-size="14" >=</text>
<text x="443.00" y="215.70" font-size="14" text-anchor="start"  >π/3</text>
<text transform="translate(352.30 235.80) scale(1.22 1)" font-size="14">θ</text>
<text transform="translate(360.80 235.80) scale(1.1 1)" font-size="14" fill="#555">=</text>
<text x="373.00" y="235.80" font-size="14" text-anchor="start"  >π/2.5</text>
<text transform="translate(424.90 235.80) scale(1.22 1)" font-size="14">θ</text>
<text transform="translate(433.60 235.80) scale(1.1 1)" font-size="14" fill="#555">=</text>
<text x="444.90" y="235.80" font-size="14" text-anchor="start"  >π/2</text>
<text transform="translate(35.90 232.80) rotate(-90) scale(1.12 1)" font-size="23" font-style="italic">σ</text>
<text transform="translate(26.10 218.00) rotate(-90) scale(1.0 1)" font-size="15" >m.sk1</text>
<text transform="translate(40.00 215.40) rotate(-90) scale(1.0 1)" font-size="14.5" >yx</text>
<text transform="translate(35.80 176.20) rotate(-90) scale(1.0 1)" font-size="16.5" >[</text>
<text transform="translate(35.50 172.00) rotate(-90) scale(1.0 1)" font-size="15.5" >η</text>
<text transform="translate(27.00 163.50) rotate(-90) scale(1.0 1)" font-size="11.5" >m</text>
<text transform="translate(35.80 153.70) rotate(-90) scale(1.0 1)" font-size="16.5" >]</text>
</g></svg>
</body></html>
